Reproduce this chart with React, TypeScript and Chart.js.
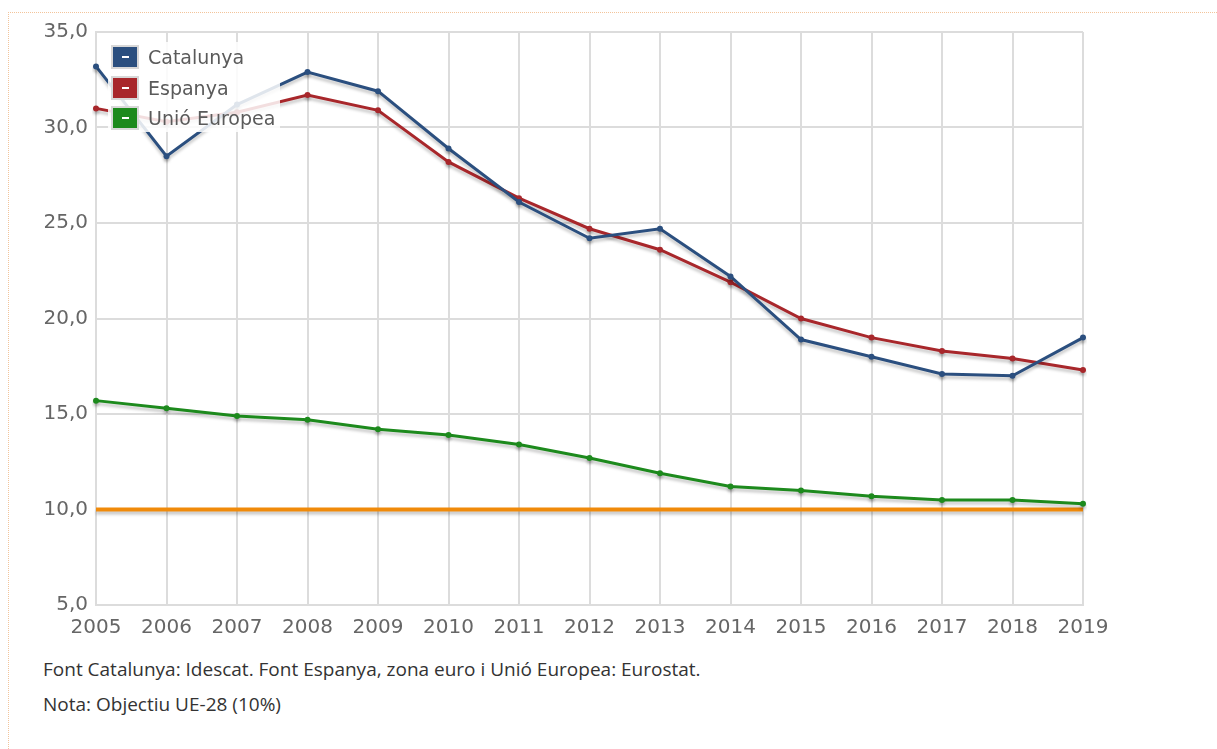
import React, { useEffect, useRef } from "react";
import { Chart, registerables } from "chart.js";

Chart.register(...registerables);

const years = ["2005","2006","2007","2008","2009","2010","2011","2012","2013","2014","2015","2016","2017","2018","2019"];
const catalunya = [33.2, 28.5, 31.2, 32.9, 31.9, 28.9, 26.1, 24.2, 24.7, 22.2, 18.9, 18.0, 17.1, 17.0, 19.0];
const espanya = [31.0, 30.3, 30.8, 31.7, 30.9, 28.2, 26.3, 24.7, 23.6, 21.9, 20.0, 19.0, 18.3, 17.9, 17.3];
const ue = [15.7, 15.3, 14.9, 14.7, 14.2, 13.9, 13.4, 12.7, 11.9, 11.2, 11.0, 10.7, 10.5, 10.5, 10.3];
const objectiu = years.map(() => 10);
const yMin = 5;
const yMax = 35;
const yStep = 5;

const legendItems = [
  { label: "Catalunya", color: "#2b4f7f" },
  { label: "Espanya", color: "#a8272b" },
  { label: "Unió Europea", color: "#1d8a1d" },
];

const shadowPlugin = {
  id: "lineShadow",
  beforeDatasetDraw(chart: any) {
    const ctx = chart.ctx;
    ctx.save();
    ctx.shadowColor = "rgba(0,0,0,0.22)";
    ctx.shadowBlur = 3;
    ctx.shadowOffsetX = 0;
    ctx.shadowOffsetY = 3;
  },
  afterDatasetDraw(chart: any) {
    chart.ctx.restore();
  },
};

export default function App() {
  const ref = useRef<HTMLCanvasElement>(null);
  useEffect(() => {
    if (!ref.current) return;
    const font = { family: "'DejaVu Sans', Verdana, sans-serif", size: 20 };
    const chart = new Chart(ref.current, {
      type: "line",
      data: {
        labels: years,
        datasets: [
          { label: "Catalunya", data: catalunya, borderColor: "#2b4f7f", backgroundColor: "#2b4f7f", borderWidth: 3, pointRadius: 3, pointBorderWidth: 0, tension: 0 },
          { label: "Espanya", data: espanya, borderColor: "#a8272b", backgroundColor: "#a8272b", borderWidth: 3, pointRadius: 3, pointBorderWidth: 0, tension: 0 },
          { label: "Unió Europea", data: ue, borderColor: "#1d8a1d", backgroundColor: "#1d8a1d", borderWidth: 3, pointRadius: 3, pointBorderWidth: 0, tension: 0 },
          { label: "Objectiu UE-28", data: objectiu, borderColor: "#f08a0a", backgroundColor: "#f08a0a", borderWidth: 4, pointRadius: 0, tension: 0 },
        ],
      },
      options: {
        animation: false,
        responsive: false,
        maintainAspectRatio: false,
        layout: { padding: { left: 0, right: 134, top: 32, bottom: 0 } },
        plugins: { legend: { display: false }, tooltip: { enabled: false } },
        scales: {
          x: {
            offset: false,
            grid: { color: "#dcdcdc", lineWidth: 2, drawTicks: false },
            border: { color: "#dcdcdc", width: 2 },
            ticks: { color: "#666", font, padding: 11, maxRotation: 0, autoSkip: false },
            afterFit: (s: any) => { s.height = 35; },
          },
          y: {
            min: yMin,
            max: yMax,
            grid: { color: "#dcdcdc", lineWidth: 2, drawTicks: false },
            border: { color: "#dcdcdc", width: 2 },
            ticks: {
              stepSize: yStep,
              color: "#666",
              font,
              padding: 8,
              callback: (v: any) => Number(v).toFixed(1).replace(".", ","),
            },
            afterFit: (s: any) => { s.width = 96; },
          },
        },
      },
      plugins: [shadowPlugin],
    });
    return () => chart.destroy();
  }, []);

  return (
    <div style={{ position: "absolute", left: 0, top: 0, width: 1217, height: 749, background: "#fff", overflow: "hidden" }}>
      <div style={{ position: "absolute", left: 8, top: 12, width: 1220, height: 760, borderTop: "1px dotted #f3c49a", borderLeft: "1px dotted #f3c49a" }} />
      <canvas ref={ref} width={1217} height={640} style={{ position: "absolute", left: 0, top: 0, width: 1217, height: 640 }} />
      <div style={{ position: "absolute", left: 108, top: 42, width: 172, height: 90, background: "rgba(255,255,255,0.85)" }}>
        {legendItems.map((it, i) => (
          <div key={it.label} style={{ position: "absolute", left: 3, top: 3 + i * 30.5, height: 24, display: "flex", alignItems: "center" }}>
            <div style={{ width: 24, height: 20, background: it.color, border: "2px solid #d8d8d8", position: "relative", boxSizing: "content-box" }}>
              <div style={{ position: "absolute", left: 9, top: 9, width: 7, height: 2, background: "#fff" }} />
            </div>
            <span style={{ marginLeft: 9, fontFamily: "'DejaVu Sans', Verdana, sans-serif", fontSize: 19, color: "#5a5a5a", whiteSpace: "nowrap" }}>{it.label}</span>
          </div>
        ))}
      </div>
      <div style={{ position: "absolute", left: 43, top: 656, fontFamily: "'Open Sans', sans-serif", fontSize: 19, color: "#333", whiteSpace: "nowrap" }}>
        Font Catalunya: Idescat. Font Espanya, zona euro i Unió Europea: Eurostat.
      </div>
      <div style={{ position: "absolute", left: 43, top: 691, fontFamily: "'Open Sans', sans-serif", fontSize: 19, color: "#333", whiteSpace: "nowrap" }}>
        Nota: Objectiu UE-28 (10%)
      </div>
    </div>
  );
}
